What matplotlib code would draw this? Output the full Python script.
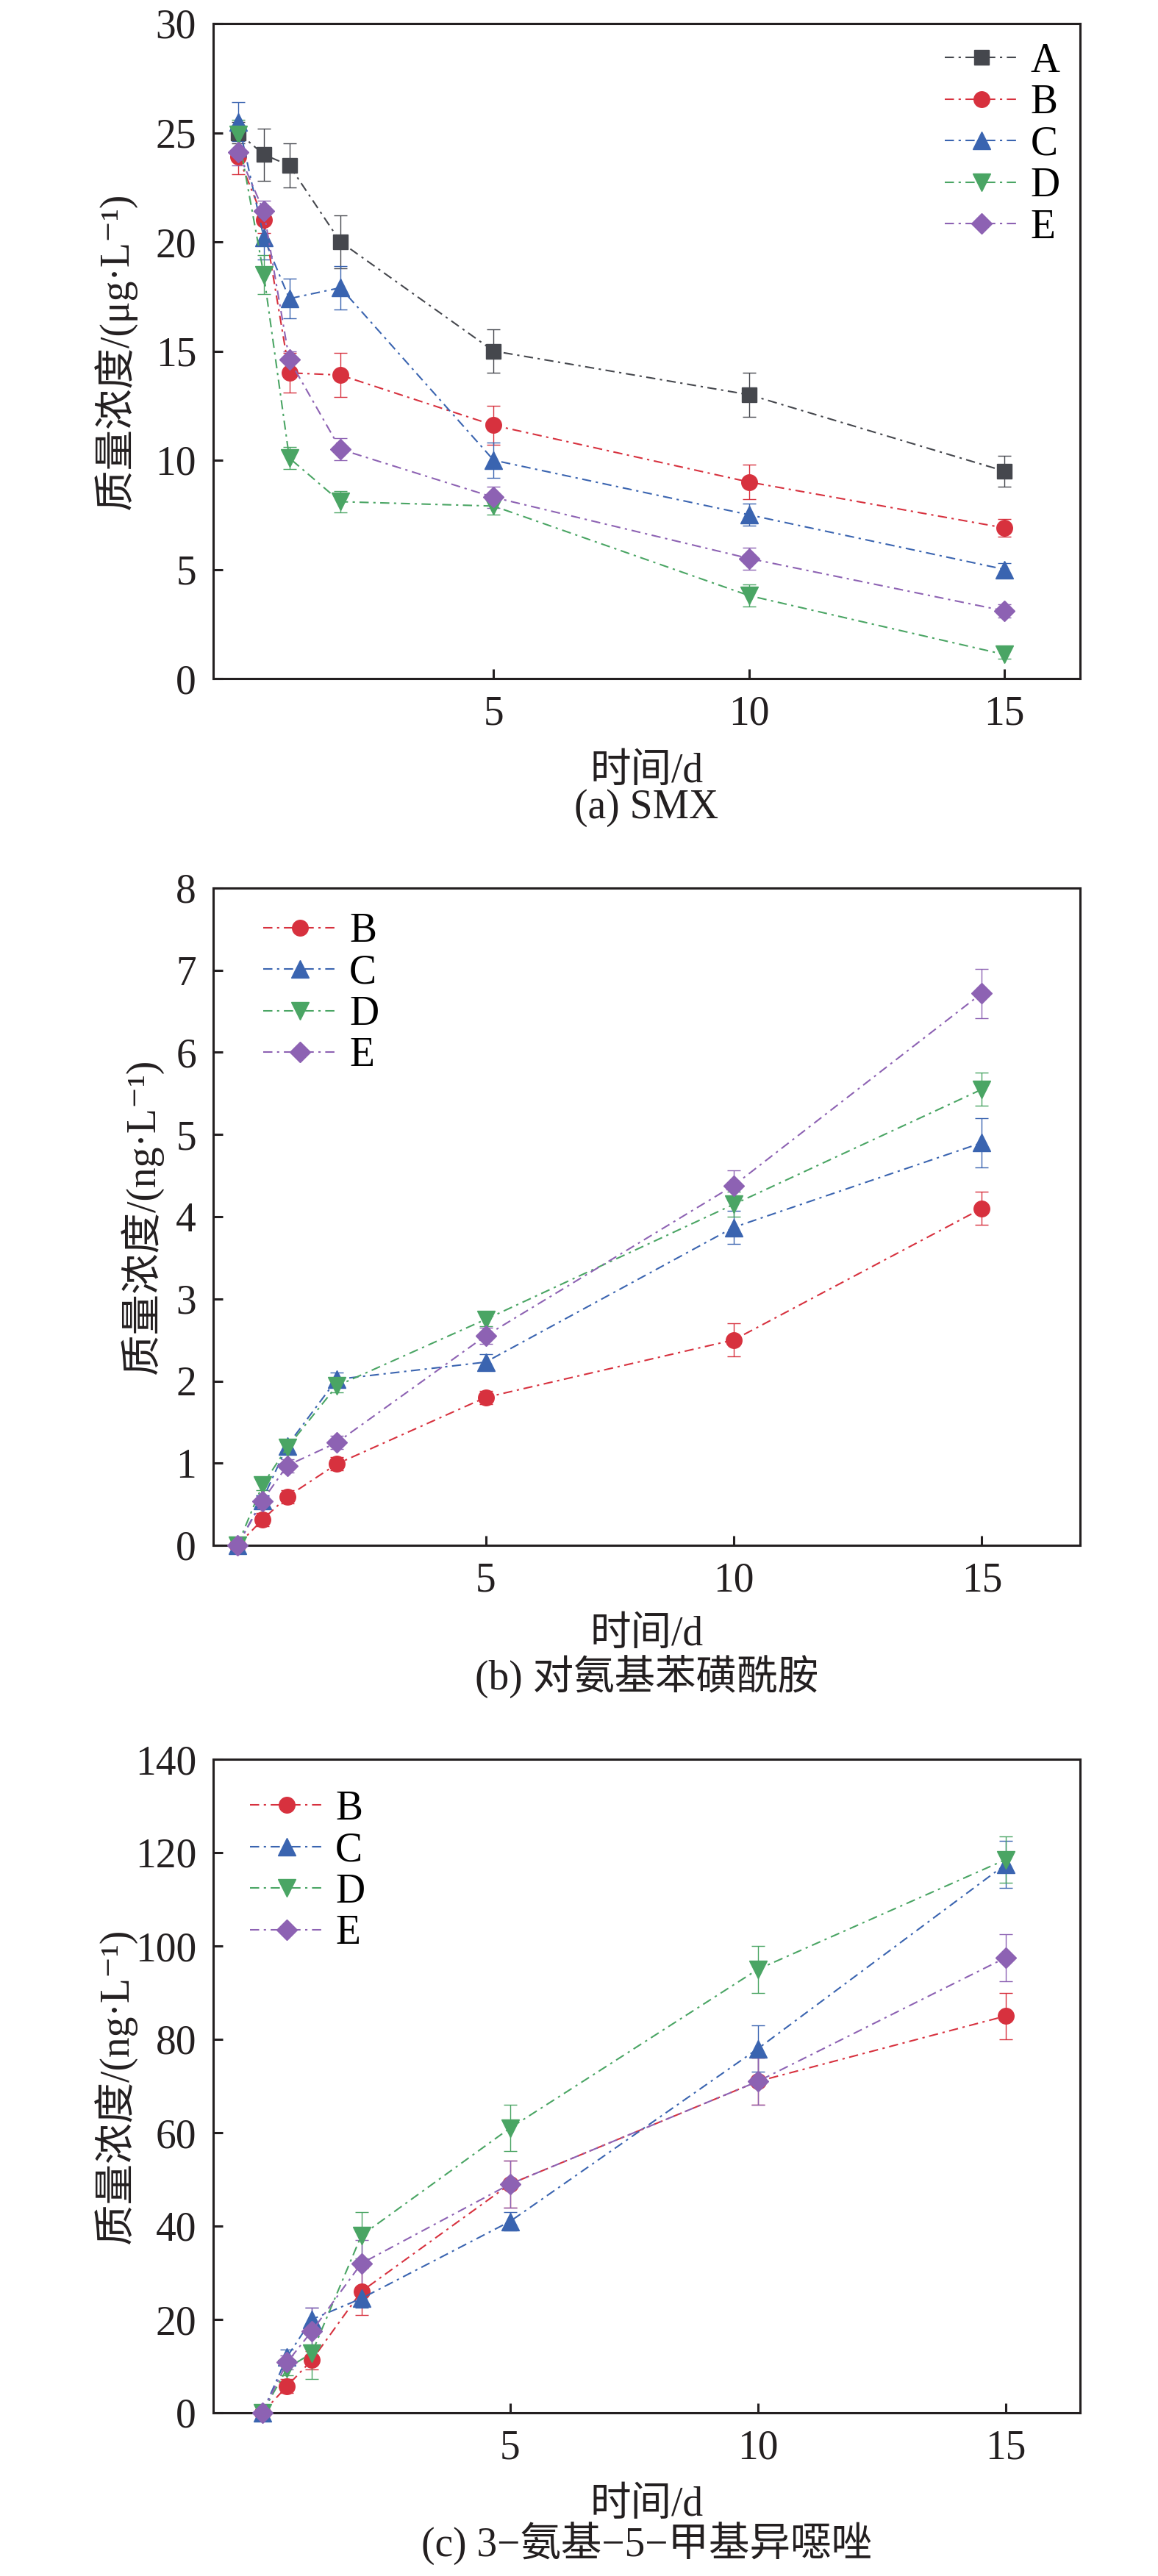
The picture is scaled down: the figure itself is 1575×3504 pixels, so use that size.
import matplotlib
matplotlib.use('Agg')
import matplotlib.pyplot as plt

FAM = ['Liberation Serif', 'Noto Sans CJK SC', 'DejaVu Sans']
plt.rcParams['font.family'] = FAM
plt.rcParams['font.size'] = 40
plt.rcParams['axes.unicode_minus'] = False

# ---------------- data ----------------
days = [0, 0.5, 1, 2, 5, 10, 15]

# (a) SMX, ug/L
smx_A = [25.0, 24.0, 23.5, 20.0, 15.0, 13.0, 9.5]
smx_A_err = [0.5, 1.2, 1.0, 1.2, 1.0, 1.0, 0.7]
smx_B = [23.9, 21.0, 14.0, 13.9, 11.6, 9.0, 6.9]
smx_B_err = [0.8, 0.6, 0.9, 1.0, 0.9, 0.8, 0.4]
smx_C = [25.5, 20.2, 17.4, 17.9, 10.0, 7.5, 5.0]
smx_C_err = [0.9, 1.0, 0.9, 1.0, 0.8, 0.5, 0.3]
smx_D = [24.9, 18.5, 10.1, 8.1, 7.9, 3.8, 1.1]
smx_D_err = [0.7, 0.9, 0.5, 0.5, 0.4, 0.5, 0.2]
smx_E = [24.1, 21.4, 14.6, 10.5, 8.3, 5.5, 3.1]
smx_E_err = [0.6, 0.5, 0.4, 0.5, 0.5, 0.5, 0.3]

# (b) sulfanilamide, ng/L
san_B = [0.0, 0.31, 0.59, 0.99, 1.80, 2.50, 4.10]
san_B_err = [0.03, 0.08, 0.08, 0.08, 0.08, 0.20, 0.20]
san_C = [0.0, 0.55, 1.21, 2.02, 2.23, 3.87, 4.90]
san_C_err = [0.03, 0.06, 0.08, 0.08, 0.10, 0.20, 0.30]
san_D = [0.0, 0.73, 1.19, 1.94, 2.75, 4.15, 5.55]
san_D_err = [0.03, 0.06, 0.08, 0.08, 0.08, 0.15, 0.20]
san_E = [0.0, 0.54, 0.97, 1.25, 2.55, 4.38, 6.72]
san_E_err = [0.03, 0.06, 0.08, 0.08, 0.10, 0.18, 0.30]

# (c) 3-amino-5-methylisoxazole, ng/L
ami_B = [0.0, 5.7, 11.3, 26.0, 49.0, 71.0, 85.0]
ami_B_err = [0.5, 1.5, 2.0, 5.0, 5.0, 5.0, 5.0]
ami_C = [0.0, 12.0, 20.0, 24.5, 41.0, 78.0, 117.5]
ami_C_err = [0.5, 1.5, 2.5, 2.0, 2.0, 5.0, 5.0]
ami_D = [0.0, 9.5, 12.8, 38.0, 61.0, 95.0, 118.5]
ami_D_err = [0.5, 1.5, 5.5, 5.0, 5.0, 5.0, 5.0]
ami_E = [0.0, 10.8, 17.5, 32.0, 49.0, 71.0, 97.5]
ami_E_err = [0.5, 1.5, 5.0, 5.0, 5.0, 5.0, 5.0]

x_ticks = [5, 10, 15]
smx_yticks = [0, 5, 10, 15, 20, 25, 30]
san_yticks = [0, 1, 2, 3, 4, 5, 6, 7, 8]
ami_yticks = [0, 20, 40, 60, 80, 100, 120, 140]

xlabel = '时间/d'
ylabel_a = '质量浓度/(μg·L⁻¹)'
ylabel_bc = '质量浓度/(ng·L⁻¹)'
captions = ['(a) SMX', '(b) 对氨基苯磺酰胺', '(c) 3−氨基−5−甲基异噁唑']

# ---------------- styles ----------------
colors = {'A': '#45474d', 'B': '#d7313e', 'C': '#3a64b0', 'D': '#4aa564', 'E': '#8d62b3'}
markers = {'A': 's', 'B': 'o', 'C': '^', 'D': 'v', 'E': 'D'}
msizes = {'A': 14.5, 'B': 15.5, 'C': 17, 'D': 17, 'E': 14.5}
LS = (0, (6, 3, 1.5, 3))

W, H = 1575, 3504
fig = plt.figure(figsize=(W / 100, H / 100), dpi=100)

def px_ax(top, bottom, left=290, right=1469):
    return [left / W, 1 - bottom / H, (right - left) / W, (bottom - top) / H]

panels = [
    dict(rect=px_ax(32, 923), series=[('A', smx_A, smx_A_err), ('B', smx_B, smx_B_err),
                                        ('C', smx_C, smx_C_err), ('D', smx_D, smx_D_err),
                                        ('E', smx_E, smx_E_err)],
         ylim=(0, 30), yticks=smx_yticks, xlim=(-0.49, 16.48), ylabel=ylabel_a, ylx=-0.113,
         leg=(0.844, 0.971), xlab_off=127, cap_off=176),
    dict(rect=px_ax(1208, 2102), series=[('B', san_B, san_B_err), ('C', san_C, san_C_err),
                                          ('D', san_D, san_D_err), ('E', san_E, san_E_err)],
         ylim=(0, 8), yticks=san_yticks, xlim=(-0.49, 16.98), ylabel=ylabel_bc, ylx=-0.083,
         leg=(0.058, 0.963), xlab_off=122, cap_off=178),
    dict(rect=px_ax(2393, 3282), series=[('B', ami_B, ami_B_err), ('C', ami_C, ami_C_err),
                                          ('D', ami_D, ami_D_err), ('E', ami_E, ami_E_err)],
         ylim=(0, 140), yticks=ami_yticks, xlim=(-0.99, 16.5), ylabel=ylabel_bc, ylx=-0.113,
         leg=(0.042, 0.953), xlab_off=126, cap_off=178),
]

for i, p in enumerate(panels):
    ax = fig.add_axes(p['rect'])
    handles, labels = [], []
    for name, vals, err in p['series']:
        c = colors[name]
        cont = ax.errorbar(days, vals, yerr=err, color=c, ecolor=c, marker=markers[name],
                           ms=msizes[name], mec=c, mfc=c, ls=LS, lw=1.5,
                           elinewidth=1.0, capsize=6.5, capthick=1.0, zorder=3)
        for art in [cont[0]] + list(cont[1]) + list(cont[2]):
            art.set_clip_on(False)
        handles.append(cont[0])
        labels.append(name)
    ax.set_xlim(*p['xlim'])
    ax.set_ylim(*p['ylim'])
    ax.set_xticks(x_ticks)
    ax.set_yticks(p['yticks'])
    ax.tick_params(direction='in', length=9.5, width=2.2, pad=16.5, labelsize=40,
                   top=False, right=False, colors='#231f20')
    for sp in ax.spines.values():
        sp.set_linewidth(2.2)
        sp.set_color('#231f20')
    ax.text(p['ylx'], 0.5, p['ylabel'], transform=ax.transAxes, rotation=90,
            ha='center', va='center', fontsize=40, color='#231f20')
    ax.legend(handles, labels, loc='upper left', bbox_to_anchor=p['leg'], frameon=False,
              borderpad=0, borderaxespad=0, handlelength=1.8, handletextpad=0.3,
              labelspacing=0.08, numpoints=1, fontsize=40)
    # x label and caption
    l, b, w, h = p['rect']
    xc = l + w / 2
    bottom_px = (1 - b) * H
    fig.text(xc, 1 - (bottom_px + p['xlab_off']) / H, xlabel, ha='center', va='center',
             fontsize=40, color='#231f20')
    fig.text(xc, 1 - (bottom_px + p['cap_off']) / H, captions[i], ha='center', va='center',
             fontsize=40, color='#231f20')

fig.savefig('out.png', dpi=100)
